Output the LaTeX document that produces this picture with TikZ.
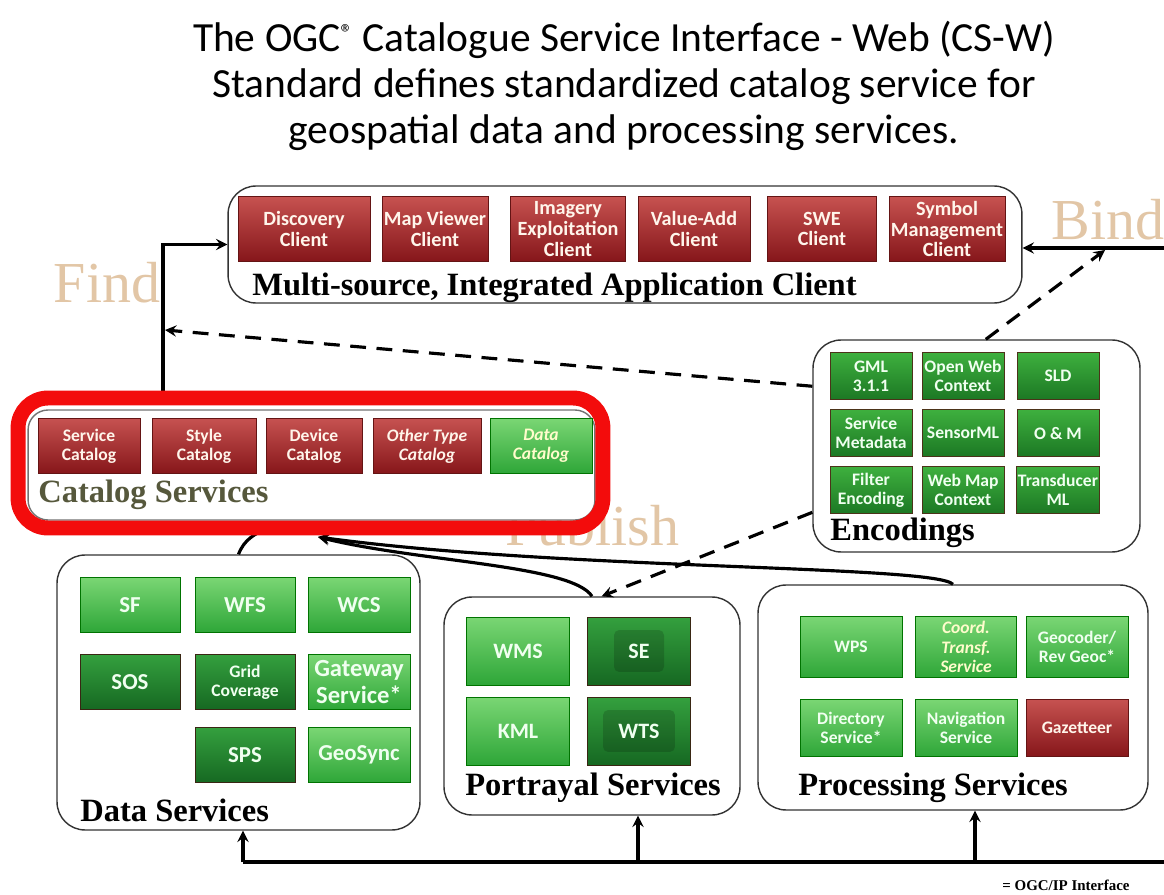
\documentclass[tikz,border=0pt]{standalone}
\usepackage{fontspec}
\setmainfont{Liberation Serif}
\newfontfamily\boxfont{Carlito}
\definecolor{redtop}{RGB}{198,82,80}
\definecolor{redbot}{RGB}{134,22,26}
\definecolor{redline}{RGB}{100,20,20}
\definecolor{lgtop}{RGB}{122,214,116}
\definecolor{lgbot}{RGB}{46,166,56}
\definecolor{dgtop}{RGB}{52,160,62}
\definecolor{dgbot}{RGB}{22,104,34}
\definecolor{egtop}{RGB}{62,176,62}
\definecolor{egbot}{RGB}{28,120,36}
\definecolor{verbtan}{RGB}{226,198,166}
\definecolor{catolive}{RGB}{86,88,60}
\definecolor{framered}{RGB}{243,12,12}
\begin{document}
\begin{tikzpicture}[x=0.02cm, y=-0.02cm, >=stealth,
	panel/.style={draw=black!80, line width=0.8pt, fill=white, rounded corners=0.56cm},
	paneltitle/.style={anchor=west, inner sep=0pt, font=\bfseries\fontsize{18.5}{20}\selectfont},
	box/.style={inner sep=1pt, align=center, font=\boxfont\bfseries\fontsize{10}{11}\selectfont},
	redbox/.style={box, draw=redline, top color=redtop, bottom color=redbot, text=white!92!orange},
	lightbox/.style={box, draw=green!45!black, top color=lgtop, bottom color=lgbot, text=white!94!green},
	darkbox/.style={box, draw=black!70!brown, top color=dgtop, bottom color=dgbot, text=white!94!green},
	clientbox/.style={redbox, minimum height=1.3cm, font=\boxfont\bfseries\fontsize{11.5}{11.8}\selectfont},
	encbox/.style={box, draw=black!60!brown, top color=egtop, bottom color=egbot, text=white!94!green, minimum width=1.64cm, minimum height=0.94cm, font=\boxfont\bfseries\fontsize{10}{10.8}\selectfont},
	inset/.style={path picture={\fill[black, opacity=0.16, rounded corners=3pt] ([xshift=-#1, yshift=-0.42cm]path picture bounding box.center) rectangle ([xshift=#1, yshift=0.42cm]path picture bounding box.center);}},
	verb/.style={text=verbtan, font=\fontsize{33}{36}\selectfont},
	conn/.style={->, line width=1.8pt},
	dconn/.style={->, line width=1.8pt, dash pattern=on 9pt off 6pt}]
	\useasboundingbox (0,0) rectangle (1164,895);
	\node[align=center, font=\boxfont\fontsize{23.6}{26}\selectfont] (T) at (624,86) {The OGC\raisebox{0.55ex}{\fontsize{14}{14}\selectfont ®} Catalogue Service Interface - Web (CS-W)\\Standard defines standardized catalog service for\\geospatial data and processing services.};
	\node[verb] (F) at (107,283) {Find};
	\node[verb] (B) at (1108,220) {Bind};
	\node[verb] (P) at (592,526) {Publish};
	% application client
	\node[panel, minimum width=15.88cm, minimum height=2.34cm] (MC) at (625,244.5) {};
	\node[clientbox, minimum width=2.64cm] (C1) at (304,229) {Discovery\\Client};
	\node[clientbox, minimum width=2.12cm] (C2) at (435,229) {Map Viewer\\Client};
	\node[clientbox, minimum width=2.3cm] (C3) at (568,229) {Imagery\\Exploitation\\Client};
	\node[clientbox, minimum width=2.24cm] (C4) at (694,229) {Value-Add\\Client};
	\node[clientbox, minimum width=2.18cm] (C5) at (822,229) {SWE\\Client};
	\node[clientbox, minimum width=2.24cm] (C6) at (947,229) {Symbol\\Management\\Client};
	\node[paneltitle] (MCL) at (252,288) {Multi-source, Integrated Application Client};
	% catalog services
	\node[panel, draw=black!55, rounded corners=0.4cm, minimum width=11.34cm, minimum height=2.2cm] (CS) at (311.5,465) {};
	\node[redbox, minimum width=2.04cm, minimum height=1.1cm] (K1) at (89,446) {Service\\Catalog};
	\node[redbox, minimum width=2.08cm, minimum height=1.1cm] (K2) at (204,446) {Style\\Catalog};
	\node[redbox, minimum width=1.92cm, minimum height=1.1cm] (K3) at (314,446) {Device\\Catalog};
	\node[redbox, minimum width=2.16cm, minimum height=1.1cm, font=\boxfont\bfseries\itshape\fontsize{10}{11}\selectfont] (K4) at (427,446) {Other Type\\Catalog};
	\node[lightbox, minimum width=2.04cm, minimum height=1.1cm, text=yellow!20, font=\boxfont\bfseries\itshape\fontsize{10}{11}\selectfont] (K5) at (541,446) {Data\\Catalog};
	\node[paneltitle, text=catolive] (CSL) at (38,495) {Catalog Services};
	% encodings
	\node[panel, minimum width=6.54cm, minimum height=4.24cm] (E) at (976.5,446) {};
	\node[encbox] (E1) at (871,376) {GML\\3.1.1};
	\node[encbox] (E2) at (963,376) {Open Web\\Context};
	\node[encbox] (E3) at (1058,376) {SLD};
	\node[encbox] (E4) at (871,433) {Service\\Metadata};
	\node[encbox] (E5) at (963,433) {SensorML};
	\node[encbox] (E6) at (1058,433) {O \& M};
	\node[encbox] (E7) at (871,490) {Filter\\Encoding};
	\node[encbox] (E8) at (963,490) {Web Map\\Context};
	\node[encbox] (E9) at (1058,490) {Transducer\\ML};
	\node[paneltitle] (EL) at (830,533) {Encodings};
	% data services
	\node[panel, minimum width=7.26cm, minimum height=5.5cm] (DS) at (238.5,692.5) {};
	\node[lightbox, minimum width=2cm, minimum height=1.1cm, font=\boxfont\bfseries\fontsize{13}{14}\selectfont] (D1) at (130,605) {SF};
	\node[lightbox, minimum width=2cm, minimum height=1.1cm, font=\boxfont\bfseries\fontsize{13}{14}\selectfont] (D2) at (245,605) {WFS};
	\node[lightbox, minimum width=2.04cm, minimum height=1.1cm, font=\boxfont\bfseries\fontsize{13}{14}\selectfont] (D3) at (359,605) {WCS};
	\node[darkbox, minimum width=2cm, minimum height=1.1cm, font=\boxfont\bfseries\fontsize{13}{14}\selectfont] (D4) at (130,682) {SOS};
	\node[darkbox, minimum width=2cm, minimum height=1.1cm] (D5) at (245,682) {Grid\\Coverage};
	\node[lightbox, minimum width=2.04cm, minimum height=1.1cm, font=\boxfont\bfseries\fontsize{14}{15.5}\selectfont] (D6) at (359,682) {Gateway\\Service*};
	\node[darkbox, minimum width=2cm, minimum height=1.1cm, font=\boxfont\bfseries\fontsize{13}{14}\selectfont] (D7) at (245,755) {SPS};
	\node[lightbox, minimum width=2.04cm, minimum height=1.1cm, font=\boxfont\bfseries\fontsize{13}{14}\selectfont] (D8) at (359,755) {GeoSync};
	\node[paneltitle] (DSL) at (80,810) {Data Services};
	% portrayal services
	\node[panel, minimum width=5.92cm, minimum height=4.36cm] (PS) at (592,706) {};
	\node[lightbox, minimum width=2.06cm, minimum height=1.36cm, font=\boxfont\bfseries\fontsize{12.5}{14}\selectfont] (P1) at (518,651) {WMS};
	\node[darkbox, inset=0.5cm, minimum width=2.06cm, minimum height=1.36cm, font=\boxfont\bfseries\fontsize{12.5}{14}\selectfont] (P2) at (639,651) {SE};
	\node[lightbox, minimum width=2.06cm, minimum height=1.36cm, font=\boxfont\bfseries\fontsize{12.5}{14}\selectfont] (P3) at (518,731) {KML};
	\node[darkbox, inset=0.72cm, minimum width=2.06cm, minimum height=1.36cm, font=\boxfont\bfseries\fontsize{12.5}{14}\selectfont] (P4) at (639,731) {WTS};
	\node[paneltitle] (PSL) at (465,788) {Portrayal Services};
	% processing services
	\node[panel, minimum width=7.8cm, minimum height=4.5cm] (PR) at (953,697.5) {};
	\node[lightbox, minimum width=2.04cm, minimum height=1.22cm] (R1) at (851,647) {WPS};
	\node[lightbox, minimum width=2.02cm, minimum height=1.22cm, text=yellow!20, font=\boxfont\bfseries\itshape\fontsize{10}{11}\selectfont] (R2) at (966,647) {Coord.\\Transf.\\Service};
	\node[lightbox, minimum width=2.04cm, minimum height=1.22cm] (R3) at (1077,647) {Geocoder/\\Rev Geoc*};
	\node[lightbox, minimum width=2.04cm, minimum height=1.14cm] (R4) at (851,728) {Directory\\Service*};
	\node[lightbox, minimum width=2.04cm, minimum height=1.14cm] (R5) at (966,728) {Navigation\\Service};
	\node[redbox, minimum width=2.04cm, minimum height=1.14cm] (R6) at (1077,728) {Gazetteer};
	\node[paneltitle] (PRL) at (798,788) {Processing Services};
	% connectors
	\coordinate (FX) at (163,0);
	\coordinate (FH) at (165,330);
	\coordinate (BR) at (1164,248);
	\coordinate (BH) at (1105,250);
	\coordinate (PI) at (318,537);
	\coordinate (PD) at (268,528);
	\draw[conn] (FX |- 0,400) |- (MC.west);
	\draw[dconn] (E.160) -- (FH);
	\draw[conn] (BR) -- (BR -| MC.east);
	\draw[dconn] (E.85) -- (BH);
	\draw[dconn] (E.202) -- (PS.85);
	\draw[line width=1.8pt] (DS.north) .. controls (244,540) and (254,534) .. (PD);
	\draw[conn] (PS.north) .. controls (572,565) and (420,562) .. (PI);
	\draw[conn] (PR.north) .. controls (935,565) and (560,570) .. (PI);
	% OGC/IP bus
	\coordinate (B0) at (243,862);
	\coordinate (B1) at (1164,862);
	\coordinate (BP) at (638,862);
	\coordinate (BQ) at (975,862);
	\draw[line width=2.8pt] (B0) -- (B1);
	\draw[conn] (B0) -- (B0 |- DS.south);
	\draw[conn] (BP) -- (BP |- PS.south);
	\draw[conn] (BQ) -- (BQ |- PR.south);
	\node[font=\bfseries\fontsize{8.5}{9}\selectfont] (IF) at (1066,885) {= OGC/IP Interface};
	% highlight
	\node[draw=framered, line width=8.5pt, rounded corners=0.6cm, minimum width=11.7cm, minimum height=2.6cm] (CF) at (310.5,463) {};
\end{tikzpicture}
\end{document}
